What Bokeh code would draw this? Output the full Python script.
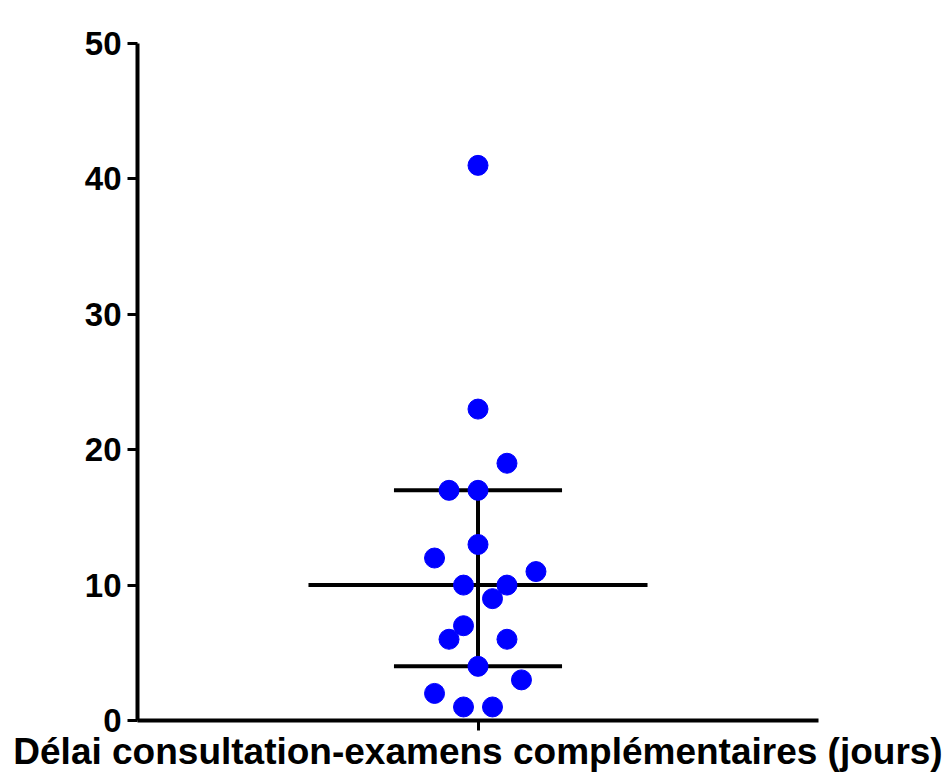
from bokeh.plotting import figure
from bokeh.models import Range1d, FixedTicker, ColumnDataSource
from bokeh.embed import file_html
from bokeh.resources import INLINE

# Data (days)
values = [41, 23, 19, 17, 17, 13, 12, 11, 10, 10, 9, 7, 6, 6, 4, 3, 2, 1, 1]
jitter = [0, 0, 2, -2, 0, 0, -3, 4, -1, 2, 1, -1, -2, 2, 0, 3, -3, -1, 1]
median = 10
q1 = 4
q3 = 17
y_ticks = [0, 10, 20, 30, 40, 50]
x_label = "Délai consultation-examens complémentaires (jours)"

# Style constants (half-widths in jitter units)
MED_HALF = 11.7
Q_HALF = 5.8

p = figure(width=946, height=776, output_backend="svg", toolbar_location=None,
           x_range=Range1d(-23.5, 23.5), y_range=Range1d(0, 50),
           min_border_left=137, min_border_right=128, min_border_top=43, min_border_bottom=56)
p.outline_line_color = None
p.grid.visible = False
p.background_fill_color = "white"
p.border_fill_color = "white"

# Median / quartile lines
p.segment(x0=[-MED_HALF, -Q_HALF, -Q_HALF, 0], x1=[MED_HALF, Q_HALF, Q_HALF, 0],
          y0=[median, q1, q3, q1], y1=[median, q1, q3, q3],
          line_color="black", line_width=4)

src = ColumnDataSource(dict(x=jitter, y=values))
p.scatter("x", "y", source=src, size=20, fill_color="#0000FF", line_color="#0000FF")

# Y axis
ya = p.yaxis[0]
ya.ticker = FixedTicker(ticks=y_ticks)
ya.minor_tick_line_color = None
ya.major_tick_in = 0
ya.major_tick_out = 10
ya.major_tick_line_width = 3
ya.axis_line_width = 4
ya.major_label_text_font = "Liberation Sans"
ya.major_label_text_font_style = "bold"
ya.major_label_text_font_size = "33px"
ya.major_label_text_color = "black"
ya.major_label_standoff = 6

# X axis
xa = p.xaxis[0]
xa.ticker = FixedTicker(ticks=[0])
xa.major_label_overrides = {0: ""}
xa.major_label_text_font_size = "1px"
xa.minor_tick_line_color = None
xa.major_tick_in = 0
xa.major_tick_out = 10
xa.major_tick_line_width = 3
xa.axis_line_width = 4
xa.axis_label = x_label
xa.axis_label_text_font = "Liberation Sans"
xa.axis_label_text_font_style = "bold"
xa.axis_label_text_font_size = "37px"
xa.axis_label_text_color = "black"
xa.axis_label_standoff = 0

open("out.html", "w").write(file_html(p, INLINE))
